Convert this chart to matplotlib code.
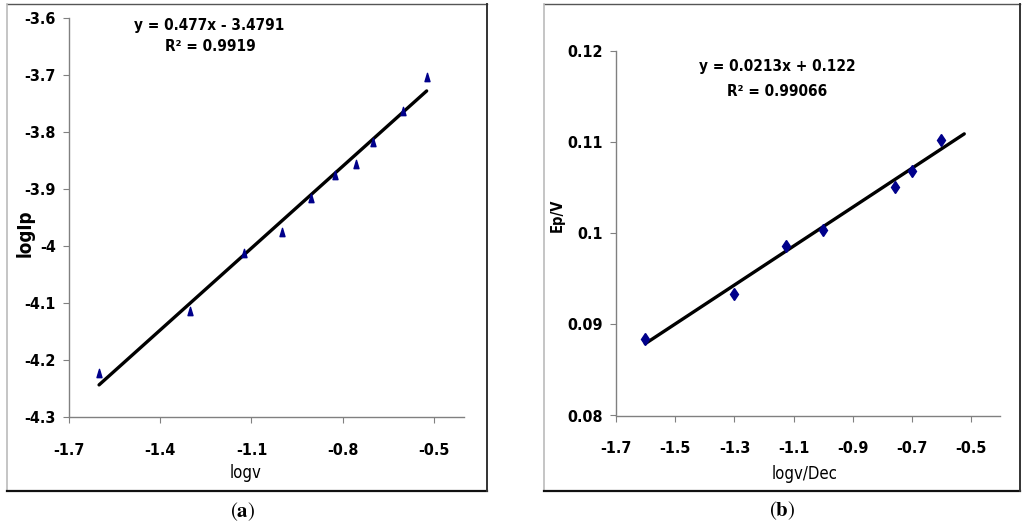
import matplotlib
matplotlib.use("Agg")
import matplotlib.pyplot as plt
import numpy as np
from matplotlib.path import Path
from matplotlib.lines import Line2D

# panel (a): logIp vs logv
logv_a = [-1.602, -1.301, -1.125, -1.0, -0.903, -0.824, -0.757, -0.699, -0.602, -0.523]
logip_a = [-4.223, -4.1135, -4.013, -3.975, -3.9156, -3.8758, -3.856, -3.8175, -3.7632, -3.7047]
slope_a, icpt_a = 0.477, -3.4791
eq_a = ["y = 0.477x - 3.4791", "R² = 0.9919"]
xticks_a = [-1.7, -1.4, -1.1, -0.8, -0.5]
yticks_a = [-4.3, -4.2, -4.1, -4.0, -3.9, -3.8, -3.7, -3.6]
ylabels_a = ["-4.3", "-4.2", "-4.1", "-4", "-3.9", "-3.8", "-3.7", "-3.6"]

# panel (b): Ep vs logv
logv_b = [-1.602, -1.301, -1.125, -1.0, -0.757, -0.699, -0.602]
ep_b = [0.0884, 0.0933, 0.0986, 0.1003, 0.1051, 0.1068, 0.1102]
slope_b, icpt_b = 0.0213, 0.122
trend_x_b = [-1.602, -0.522]
eq_b = ["y = 0.0213x + 0.122", "R² = 0.99066"]
xticks_b = [-1.7, -1.5, -1.3, -1.1, -0.9, -0.7, -0.5]
yticks_b = [0.08, 0.09, 0.10, 0.11, 0.12]
ylabels_b = ["0.08", "0.09", "0.1", "0.11", "0.12"]

plt.rcParams["font.family"] = ["DejaVu Sans"]
plt.rcParams["font.stretch"] = "condensed"
plt.rcParams["mathtext.fontset"] = "stix"

W, H = 1024, 529
fig = plt.figure(figsize=(W / 100, H / 100), dpi=100)


def px_axes(l, t, r, b):
    return [l / W, 1 - b / H, (r - l) / W, (b - t) / H]


def panel_box(l, t, r, b):
    # light frame with darker bottom/right edges like the source figure
    fx = lambda x: x / W
    fy = lambda y: 1 - y / H
    fig.add_artist(Line2D([fx(l), fx(r)], [fy(t), fy(t)], color="#555555", lw=1.0))
    fig.add_artist(Line2D([fx(l), fx(l)], [fy(t), fy(b)], color="#bbbbbb", lw=1.2))
    fig.add_artist(Line2D([fx(l), fx(r)], [fy(b), fy(b)], color="#111111", lw=1.6))
    fig.add_artist(Line2D([fx(r), fx(r)], [fy(t), fy(b)], color="#333333", lw=1.4))


def style_axes(ax):
    for s in ["top", "right"]:
        ax.spines[s].set_visible(False)
    for s in ["left", "bottom"]:
        ax.spines[s].set_color("#808080")
        ax.spines[s].set_linewidth(1.0)
    ax.tick_params(axis="both", direction="out", length=4.5, width=0.8, color="#808080",
                   labelsize=11.5)
    ax.tick_params(axis="x", pad=14)
    ax.tick_params(axis="y", pad=5)
    for lab in ax.get_xticklabels() + ax.get_yticklabels():
        lab.set_fontweight("bold")


tri = Path([(-0.3, -0.5), (0.3, -0.5), (0.0, 0.5), (-0.3, -0.5)],
           [Path.MOVETO, Path.LINETO, Path.LINETO, Path.CLOSEPOLY])

# ---- panel (a)
panel_box(7, 4, 487, 491)
ax1 = fig.add_axes(px_axes(69.3, 17.5, 464, 417.3))
xs = np.array([min(logv_a), max(logv_a)])
ax1.plot(xs, slope_a * xs + icpt_a, color="black", lw=2.4, solid_capstyle="round", zorder=2)
ax1.plot(logv_a, logip_a, linestyle="none", marker=tri, markersize=6,
         color="#00008b", zorder=3)
ax1.set_xlim(-1.7, -0.4)
ax1.set_ylim(-4.3, -3.6)
ax1.set_xticks(xticks_a)
ax1.set_xticklabels([str(t) for t in xticks_a])
ax1.set_yticks(yticks_a)
ax1.set_yticklabels(ylabels_a)
style_axes(ax1)
ax1.set_xlabel("logv", fontsize=12)
ax1.xaxis.set_label_coords(0.4477, -0.139)
ax1.xaxis.label.set_va("center")
ax1.set_ylabel("logIp", fontsize=13.5, fontweight="bold")
ax1.yaxis.set_label_coords(-0.112, 0.46)
ax1.yaxis.label.set_va("center")
ax1.text(0.354, 0.981, eq_a[0], transform=ax1.transAxes, ha="center", va="center",
         fontsize=11, fontweight="bold", clip_on=False)
ax1.text(0.358, 0.927, eq_a[1], transform=ax1.transAxes, ha="center", va="center",
         fontsize=11, fontweight="bold", clip_on=False)

# ---- panel (b)
panel_box(544, 4, 1020, 491)
ax2 = fig.add_axes(px_axes(616.3, 50.7, 1000.3, 415.5))
xs = np.array(trend_x_b)
ax2.plot(xs, slope_b * xs + icpt_b, color="black", lw=2.4, solid_capstyle="round", zorder=2)
ax2.plot(logv_b, ep_b, linestyle="none", marker="d", markersize=6,
         color="#00008b", zorder=3)
ax2.set_xlim(-1.7, -0.4)
ax2.set_ylim(0.08, 0.12)
ax2.set_xticks(xticks_b)
ax2.set_xticklabels([str(t) for t in xticks_b])
ax2.set_yticks(yticks_b)
ax2.set_yticklabels(ylabels_b)
style_axes(ax2)
ax2.set_xlabel("logv/Dec", fontsize=12)
ax2.xaxis.set_label_coords(0.4896, -0.159)
ax2.xaxis.label.set_va("center")
ax2.set_ylabel("Ep/V", fontsize=10.5, fontweight="bold")
ax2.yaxis.set_label_coords(-0.154, 0.549)
ax2.yaxis.label.set_va("center")
ax2.text(0.4185, 0.957, eq_b[0], transform=ax2.transAxes, ha="center", va="center",
         fontsize=11, fontweight="bold", clip_on=False)
ax2.text(0.4185, 0.8895, eq_b[1], transform=ax2.transAxes, ha="center", va="center",
         fontsize=11, fontweight="bold", clip_on=False)

# captions
fig.text(243 / W, 1 - 511.7 / H, r"$(\mathbf{a})$", ha="center", va="center", fontsize=15)
fig.text(782.7 / W, 1 - 510.6 / H, r"$(\mathbf{b})$", ha="center", va="center", fontsize=15)

fig.savefig("out.png", dpi=100)
